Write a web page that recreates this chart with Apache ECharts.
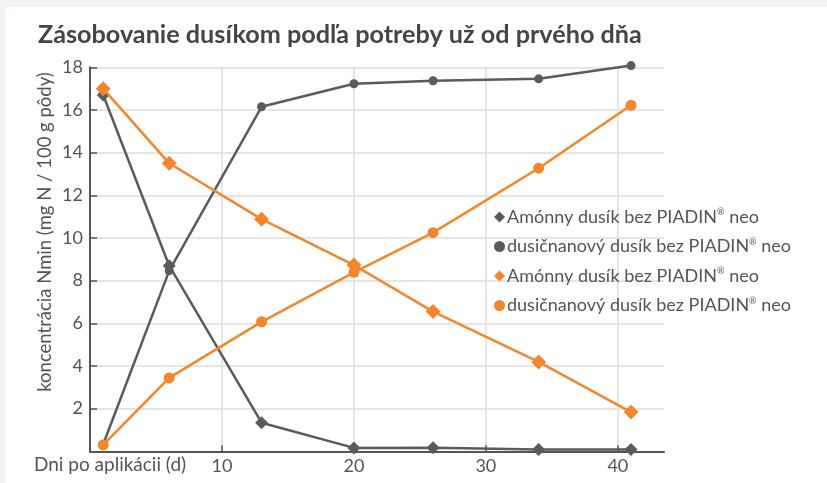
<!DOCTYPE html>
<html>
<head>
<meta charset="utf-8">
<script src="https://cdn.jsdelivr.net/npm/echarts@6/dist/echarts.min.js"></script>
<style>
html,body{margin:0;padding:0;background:#f4f3ef;}
#card{position:absolute;left:5px;top:7px;right:0;bottom:0;background:#fff;}
#chart{position:absolute;left:0;top:0;width:827px;height:483px;}
</style>
</head>
<body>
<div id="card"></div>
<div id="chart"></div>
<script>
const days = [1, 6, 13, 20, 26, 34, 41];
const grayAmmonium = [16.7, 8.7, 1.34, 0.16, 0.17, 0.08, 0.08];
const grayNitrate = [0.33, 8.46, 16.15, 17.23, 17.37, 17.46, 18.08];
const orangeAmmonium = [17.0, 13.5, 10.88, 8.73, 6.55, 4.19, 1.84];
const orangeNitrate = [0.3, 3.44, 6.07, 8.39, 10.25, 13.27, 16.22];
const seriesLabels = [
  'Amónny dusík bez PIADIN{sup|®} neo',
  'dusičnanový dusík bez PIADIN{sup|®} neo',
  'Amónny dusík bez PIADIN{sup|®} neo',
  'dusičnanový dusík bez PIADIN{sup|®} neo'
];
const seriesKeys = ['s1', 's2', 's3', 's4'];
const xTicks = [10, 20, 30, 40];
const yTicks = [2, 4, 6, 8, 10, 12, 14, 16, 18];
const titleText = 'Zásobovanie dusíkom podľa potreby už od prvého dňa';
const yAxisTitle = 'koncentrácia Nmin (mg N / 100 g pôdy)';
const xAxisTitle = 'Dni po aplikácii (d)';

const GRAY = '#5b5b5b';
const ORANGE = '#f5872a';
const FONT = 'Lato';

function pts(vals){ return days.map((d,i)=>[d, vals[i]]); }

const chart = echarts.init(document.getElementById('chart'), null, {renderer:'canvas'});
const defs = [
  {data: grayAmmonium, color: GRAY, symbol: 'diamond', size: 13},
  {data: grayNitrate, color: GRAY, symbol: 'circle', size: 9},
  {data: orangeAmmonium, color: ORANGE, symbol: 'diamond', size: 15},
  {data: orangeNitrate, color: ORANGE, symbol: 'circle', size: 11}
];
chart.setOption({
  backgroundColor: 'transparent',
  animation: false,
  textStyle: {fontFamily: FONT},
  title: {
    text: titleText, left: 33, top: 17,
    textStyle: {fontFamily: FONT, fontWeight: 'bold', fontSize: 25.2, color: '#454545'}
  },
  grid: {left: 90, right: 163, top: 67.3, bottom: 31.7, containLabel: false},
  xAxis: {
    type: 'value', min: 0, max: 43.5, interval: 10,
    axisLine: {show: true, lineStyle: {color: '#555', width: 2}},
    axisTick: {show: true, inside: true, length: 6, lineStyle: {color: '#555', width: 1.5},
      customValues: xTicks},
    axisLabel: {color: '#555', fontSize: 18, fontFamily: FONT, margin: 6,
      customValues: xTicks},
    splitLine: {show: true, lineStyle: {color: '#dedede', width: 1.5}}
  },
  yAxis: {
    type: 'value', min: 0, max: 18, interval: 2,
    axisLine: {show: true, lineStyle: {color: '#555', width: 2}},
    axisTick: {show: true, inside: true, length: 7, lineStyle: {color: '#555', width: 1.5},
      customValues: yTicks},
    axisLabel: {color: '#555', fontSize: 18, fontFamily: FONT, margin: 7,
      customValues: yTicks},
    splitLine: {show: true, lineStyle: {color: '#dedede', width: 1.5}}
  },
  legend: {
    orient: 'vertical', left: 489, top: 203,
    itemWidth: 11, itemHeight: 11, itemGap: 11.5,
    data: seriesKeys.map((k,i)=>({name:k, icon: defs[i].symbol})),
    formatter: function(name){ return seriesLabels[seriesKeys.indexOf(name)]; },
    textStyle: {fontFamily: FONT, fontSize: 18, color: '#555', padding: [0,0,0,-3],
      rich: {sup: {fontSize: 9, verticalAlign: 'top', padding: [0,0,9,0], color: '#555', fontFamily: FONT}}},
    selectedMode: false
  },
  graphic: [
    {type: 'text', left: 34, top: 455, style: {text: xAxisTitle, fontFamily: FONT, fontSize: 19, fill: '#555'}},
    {type: 'text', x: 45, y: 232, rotation: Math.PI/2,
      style: {text: yAxisTitle, fontFamily: FONT, fontSize: 18.5, fill: '#555', align: 'center', verticalAlign: 'middle'}}
  ],
  series: defs.map((d,i)=>({
    name: seriesKeys[i], type: 'line', data: pts(d.data),
    symbol: d.symbol, symbolSize: d.size, showSymbol: true, clip: false,
    lineStyle: {color: d.color, width: 2.5},
    itemStyle: {color: d.color},
    z: 2 + i
  }))
});
</script>
</body>
</html>
